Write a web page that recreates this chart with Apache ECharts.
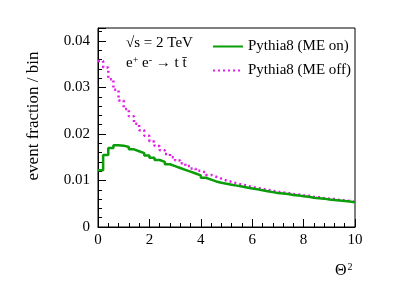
<!DOCTYPE html>
<html>
<head>
<meta charset="utf-8">
<script src="https://cdn.jsdelivr.net/npm/echarts@6/dist/echarts.min.js"></script>
<style>html,body{margin:0;padding:0;background:#fff}#c{width:395px;height:284px}</style>
</head>
<body>
<div id="c"></div>
<script>
// Histogram: 50 bins of width 0.2 on Theta^2 in [0,10]
var binWidth = 0.2;
var meOn = [0.0122,0.0155,0.0170,0.0176,0.0175,0.0172,0.0167,0.0163,0.0159,0.0154,
            0.0149,0.0144,0.0140,0.0135,0.0131,0.0127,0.0123,0.0119,0.0115,0.0111,
            0.0106,0.0102,0.0098,0.0095,0.0093,0.0091,0.0089,0.0087,0.0085,0.0083,
            0.0081,0.0079,0.0077,0.0075,0.0073,0.0072,0.0071,0.0069,0.0068,0.0066,
            0.0065,0.0063,0.0062,0.0061,0.0059,0.0058,0.0057,0.0056,0.0055,0.0053];
var meOff = [0.0357,0.0343,0.0318,0.0295,0.0272,0.0254,0.0238,0.0222,0.0208,0.0196,
             0.0184,0.0174,0.0165,0.0157,0.0150,0.0143,0.0137,0.0131,0.0126,0.0121,
             0.0117,0.0112,0.0108,0.0104,0.0100,0.0097,0.0094,0.0091,0.0089,0.0086,
             0.0084,0.0082,0.0080,0.0078,0.0076,0.0074,0.0073,0.0071,0.0070,0.0068,
             0.0067,0.0065,0.0064,0.0062,0.0061,0.0060,0.0058,0.0057,0.0056,0.0054];
var seriesNames = ['Pythia8 (ME on)', 'Pythia8 (ME off)'];
var yTickLabels = ['0', '0.01', '0.02', '0.03', '0.04'];
var xTickLabels = ['0', '2', '4', '6', '8', '10'];

function stepData(vals) {
  var d = vals.map(function (v, i) { return [i * binWidth, v]; });
  d.push([vals.length * binWidth, vals[vals.length - 1]]);
  return d;
}

var FONT = '"Liberation Serif", "DejaVu Serif", serif';
var GREEN = '#0a9e0a', MAG = '#e21ee6';
var chart = echarts.init(document.getElementById('c'), null, {renderer: 'canvas'});
chart.setOption({
  animation: false,
  backgroundColor: '#fff',
  grid: {left: 98, right: 40, top: 28, bottom: 57, show: true, borderColor: '#000', borderWidth: 1},
  xAxis: {
    type: 'value', min: 0, max: 10, interval: 2,
    axisLine: {show: true, onZero: false, lineStyle: {color: '#000', width: 1}},
    axisTick: {show: true, inside: true, length: 8, lineStyle: {color: '#000'}},
    minorTick: {show: true, splitNumber: 5, length: 4, lineStyle: {color: '#000'}},
    splitLine: {show: false},
    axisLabel: {color: '#000', fontFamily: FONT, fontSize: 15, margin: 6,
      formatter: function (v) { var i = Math.round(v / 2); return xTickLabels[i] !== undefined ? xTickLabels[i] : ''; }}
  },
  yAxis: {
    type: 'value', min: 0, max: 0.0428, interval: 0.01,
    axisLine: {show: true, lineStyle: {color: '#000', width: 1}},
    axisTick: {show: true, inside: true, length: 8, lineStyle: {color: '#000'}},
    minorTick: {show: true, splitNumber: 5, length: 4, lineStyle: {color: '#000'}},
    splitLine: {show: false},
    axisLabel: {color: '#000', fontFamily: FONT, fontSize: 15, margin: 8, showMaxLabel: false,
      formatter: function (v) { var i = Math.round(v / 0.01); return (Math.abs(v - i * 0.01) < 1e-6 && yTickLabels[i] !== undefined) ? yTickLabels[i] : ''; }}
  },
  legend: {
    orient: 'vertical', left: 207, top: 34, itemWidth: 30, itemHeight: 14, itemGap: 9,
    itemStyle: {opacity: 0},
    textStyle: {color: '#000', fontFamily: FONT, fontSize: 15},
    data: seriesNames
  },
  series: [
    {name: seriesNames[0], type: 'line', step: 'end', symbol: 'none', showSymbol: false,
     lineStyle: {color: GREEN, width: 2.5}, itemStyle: {color: GREEN},
     data: stepData(meOn), z: 3},
    {name: seriesNames[1], type: 'line', step: 'end', symbol: 'none', showSymbol: false,
     lineStyle: {color: MAG, width: 2.5, type: [2, 3]}, itemStyle: {color: MAG},
     data: stepData(meOff), z: 2}
  ],
  graphic: [
    {type: 'text', left: 126, top: 36, style: {text: '√s = 2 TeV', font: '15px ' + FONT, fill: '#000'}},
    {type: 'text', left: 126, top: 55, style: {
      text: 'e{s|+} e{s|-} → t t̄',
      font: '15px ' + FONT, fill: '#000',
      rich: {s: {fontSize: 10, fontFamily: FONT, verticalAlign: 'top', padding: [0, 0, 6, 0]}}}},
    {type: 'text', left: 335, top: 262, style: {
      text: 'Θ{s|2}', font: '16px ' + FONT, fill: '#000',
      rich: {s: {fontSize: 10, fontFamily: FONT, padding: [0, 0, 8, 1]}}}},
    {type: 'text', x: 34, y: 116, rotation: Math.PI / 2,
     style: {text: 'event fraction / bin', font: '17px ' + FONT, fill: '#000', align: 'center', verticalAlign: 'middle'}}
  ]
});
</script>
</body>
</html>
